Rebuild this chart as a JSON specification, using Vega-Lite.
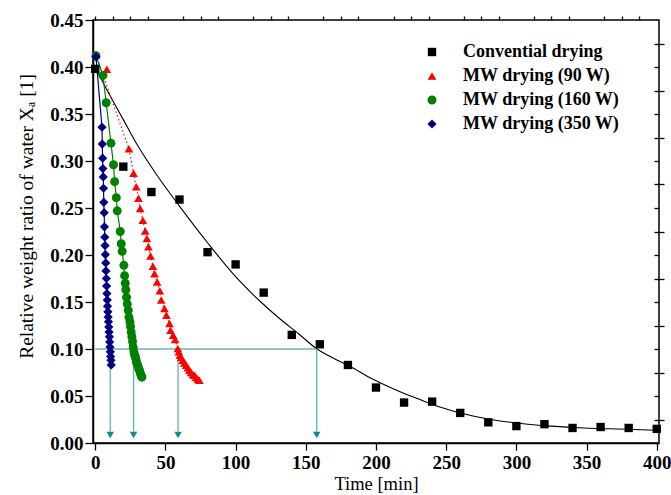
{
  "$schema": "https://vega.github.io/schema/vega-lite/v6.json",
  "width": 566,
  "height": 423,
  "autosize": "none",
  "padding": {"left": 93, "top": 20, "right": 12, "bottom": 52},
  "config": {
    "view": {"stroke": "black", "strokeWidth": 1.5},
    "font": "Liberation Serif",
    "axis": {"domainColor": "black", "domainWidth": 1.5, "tickColor": "black", "tickWidth": 1.3, "labelColor": "black", "titleColor": "black", "grid": false}
  },
  "datasets": {
    "fit": [
      {"t": 0, "y": 0.399}, {"t": 5, "y": 0.385}, {"t": 10, "y": 0.371}, {"t": 20, "y": 0.344}, {"t": 30, "y": 0.317}, {"t": 43, "y": 0.287}, {"t": 60, "y": 0.252}, {"t": 80, "y": 0.213}, {"t": 100, "y": 0.177}, {"t": 111, "y": 0.16}, {"t": 118, "y": 0.15}, {"t": 130, "y": 0.134}, {"t": 145, "y": 0.116}, {"t": 158, "y": 0.1}, {"t": 170, "y": 0.09}, {"t": 182, "y": 0.081}, {"t": 195, "y": 0.07}, {"t": 206, "y": 0.062}, {"t": 218, "y": 0.054}, {"t": 230, "y": 0.047}, {"t": 246, "y": 0.038}, {"t": 260, "y": 0.032}, {"t": 282, "y": 0.025}, {"t": 301, "y": 0.021}, {"t": 325, "y": 0.018}, {"t": 348, "y": 0.016}, {"t": 379, "y": 0.0146}, {"t": 400, "y": 0.0135}
    ],
    "pts": [
      {"s": "Convential drying", "t": 0, "y": 0.398}, {"s": "Convential drying", "t": 20, "y": 0.294}, {"s": "Convential drying", "t": 40, "y": 0.267}, {"s": "Convential drying", "t": 60, "y": 0.259}, {"s": "Convential drying", "t": 80, "y": 0.203}, {"s": "Convential drying", "t": 100, "y": 0.19}, {"s": "Convential drying", "t": 120, "y": 0.16}, {"s": "Convential drying", "t": 140, "y": 0.115}, {"s": "Convential drying", "t": 160, "y": 0.105}, {"s": "Convential drying", "t": 180, "y": 0.083}, {"s": "Convential drying", "t": 200, "y": 0.059}, {"s": "Convential drying", "t": 220, "y": 0.043}, {"s": "Convential drying", "t": 240, "y": 0.044}, {"s": "Convential drying", "t": 260, "y": 0.032}, {"s": "Convential drying", "t": 280, "y": 0.022}, {"s": "Convential drying", "t": 300, "y": 0.018}, {"s": "Convential drying", "t": 320, "y": 0.02}, {"s": "Convential drying", "t": 340, "y": 0.016}, {"s": "Convential drying", "t": 360, "y": 0.017}, {"s": "Convential drying", "t": 380, "y": 0.016}, {"s": "Convential drying", "t": 400, "y": 0.015},
      {"s": "MW drying (90 W)", "t": 0.5, "y": 0.413}, {"s": "MW drying (90 W)", "t": 8.3, "y": 0.3975}, {"s": "MW drying (90 W)", "t": 24.0, "y": 0.313}, {"s": "MW drying (90 W)", "t": 27.3, "y": 0.287}, {"s": "MW drying (90 W)", "t": 29.2, "y": 0.2726}, {"s": "MW drying (90 W)", "t": 30.8, "y": 0.2605}, {"s": "MW drying (90 W)", "t": 32.0, "y": 0.2495}, {"s": "MW drying (90 W)", "t": 33.9, "y": 0.237}, {"s": "MW drying (90 W)", "t": 35.6, "y": 0.2254}, {"s": "MW drying (90 W)", "t": 36.8, "y": 0.2176}, {"s": "MW drying (90 W)", "t": 37.9, "y": 0.2087}, {"s": "MW drying (90 W)", "t": 39.4, "y": 0.199}, {"s": "MW drying (90 W)", "t": 41.1, "y": 0.188}, {"s": "MW drying (90 W)", "t": 42.2, "y": 0.18}, {"s": "MW drying (90 W)", "t": 44.1, "y": 0.1714}, {"s": "MW drying (90 W)", "t": 46.0, "y": 0.162}, {"s": "MW drying (90 W)", "t": 47.0, "y": 0.152}, {"s": "MW drying (90 W)", "t": 49.3, "y": 0.143}, {"s": "MW drying (90 W)", "t": 50.7, "y": 0.136}, {"s": "MW drying (90 W)", "t": 52.9, "y": 0.127}, {"s": "MW drying (90 W)", "t": 53.6, "y": 0.12}, {"s": "MW drying (90 W)", "t": 55.5, "y": 0.1147}, {"s": "MW drying (90 W)", "t": 56.9, "y": 0.11}, {"s": "MW drying (90 W)", "t": 58.8, "y": 0.1005}, {"s": "MW drying (90 W)", "t": 59.5, "y": 0.097}, {"s": "MW drying (90 W)", "t": 60.3, "y": 0.0934}, {"s": "MW drying (90 W)", "t": 61.3, "y": 0.091}, {"s": "MW drying (90 W)", "t": 62.4, "y": 0.088}, {"s": "MW drying (90 W)", "t": 63.5, "y": 0.085}, {"s": "MW drying (90 W)", "t": 64.8, "y": 0.0827}, {"s": "MW drying (90 W)", "t": 66.0, "y": 0.08}, {"s": "MW drying (90 W)", "t": 67.1, "y": 0.0774}, {"s": "MW drying (90 W)", "t": 68.3, "y": 0.075}, {"s": "MW drying (90 W)", "t": 69.5, "y": 0.073}, {"s": "MW drying (90 W)", "t": 70.7, "y": 0.0721}, {"s": "MW drying (90 W)", "t": 71.8, "y": 0.07}, {"s": "MW drying (90 W)", "t": 73.0, "y": 0.068}, {"s": "MW drying (90 W)", "t": 74.2, "y": 0.0667},
      {"s": "MW drying (160 W)", "t": 0.5, "y": 0.412}, {"s": "MW drying (160 W)", "t": 5.5, "y": 0.391}, {"s": "MW drying (160 W)", "t": 7.8, "y": 0.362}, {"s": "MW drying (160 W)", "t": 11.2, "y": 0.319}, {"s": "MW drying (160 W)", "t": 13.0, "y": 0.296}, {"s": "MW drying (160 W)", "t": 13.8, "y": 0.278}, {"s": "MW drying (160 W)", "t": 15.0, "y": 0.261}, {"s": "MW drying (160 W)", "t": 15.7, "y": 0.247}, {"s": "MW drying (160 W)", "t": 17.8, "y": 0.225}, {"s": "MW drying (160 W)", "t": 18.5, "y": 0.212}, {"s": "MW drying (160 W)", "t": 19.2, "y": 0.204}, {"s": "MW drying (160 W)", "t": 20.4, "y": 0.189}, {"s": "MW drying (160 W)", "t": 20.9, "y": 0.178}, {"s": "MW drying (160 W)", "t": 21.4, "y": 0.17}, {"s": "MW drying (160 W)", "t": 21.8, "y": 0.163}, {"s": "MW drying (160 W)", "t": 22.3, "y": 0.155}, {"s": "MW drying (160 W)", "t": 22.8, "y": 0.148}, {"s": "MW drying (160 W)", "t": 23.5, "y": 0.141}, {"s": "MW drying (160 W)", "t": 24.0, "y": 0.134}, {"s": "MW drying (160 W)", "t": 24.7, "y": 0.129}, {"s": "MW drying (160 W)", "t": 25.1, "y": 0.124}, {"s": "MW drying (160 W)", "t": 25.6, "y": 0.118}, {"s": "MW drying (160 W)", "t": 26.1, "y": 0.113}, {"s": "MW drying (160 W)", "t": 26.6, "y": 0.108}, {"s": "MW drying (160 W)", "t": 27.0, "y": 0.102}, {"s": "MW drying (160 W)", "t": 27.5, "y": 0.097}, {"s": "MW drying (160 W)", "t": 28.0, "y": 0.094}, {"s": "MW drying (160 W)", "t": 28.5, "y": 0.092}, {"s": "MW drying (160 W)", "t": 29.0, "y": 0.089}, {"s": "MW drying (160 W)", "t": 29.4, "y": 0.086}, {"s": "MW drying (160 W)", "t": 29.9, "y": 0.084}, {"s": "MW drying (160 W)", "t": 30.4, "y": 0.082}, {"s": "MW drying (160 W)", "t": 31.0, "y": 0.079}, {"s": "MW drying (160 W)", "t": 31.6, "y": 0.077}, {"s": "MW drying (160 W)", "t": 32.2, "y": 0.074}, {"s": "MW drying (160 W)", "t": 32.7, "y": 0.072}, {"s": "MW drying (160 W)", "t": 33.2, "y": 0.07},
      {"s": "MW drying (350 W)", "t": 0.5, "y": 0.411}, {"s": "MW drying (350 W)", "t": 4.8, "y": 0.336}, {"s": "MW drying (350 W)", "t": 5.0, "y": 0.318}, {"s": "MW drying (350 W)", "t": 5.25, "y": 0.303}, {"s": "MW drying (350 W)", "t": 5.45, "y": 0.292}, {"s": "MW drying (350 W)", "t": 5.7, "y": 0.283}, {"s": "MW drying (350 W)", "t": 5.9, "y": 0.271}, {"s": "MW drying (350 W)", "t": 6.1, "y": 0.256}, {"s": "MW drying (350 W)", "t": 6.35, "y": 0.245}, {"s": "MW drying (350 W)", "t": 6.55, "y": 0.23}, {"s": "MW drying (350 W)", "t": 6.8, "y": 0.219}, {"s": "MW drying (350 W)", "t": 7.0, "y": 0.21}, {"s": "MW drying (350 W)", "t": 7.2, "y": 0.2005}, {"s": "MW drying (350 W)", "t": 7.45, "y": 0.1916}, {"s": "MW drying (350 W)", "t": 7.65, "y": 0.183}, {"s": "MW drying (350 W)", "t": 7.9, "y": 0.175}, {"s": "MW drying (350 W)", "t": 8.1, "y": 0.167}, {"s": "MW drying (350 W)", "t": 8.3, "y": 0.159}, {"s": "MW drying (350 W)", "t": 8.55, "y": 0.152}, {"s": "MW drying (350 W)", "t": 8.75, "y": 0.1455}, {"s": "MW drying (350 W)", "t": 9.0, "y": 0.1395}, {"s": "MW drying (350 W)", "t": 9.2, "y": 0.134}, {"s": "MW drying (350 W)", "t": 9.4, "y": 0.129}, {"s": "MW drying (350 W)", "t": 9.65, "y": 0.1235}, {"s": "MW drying (350 W)", "t": 9.85, "y": 0.118}, {"s": "MW drying (350 W)", "t": 10.1, "y": 0.113}, {"s": "MW drying (350 W)", "t": 10.3, "y": 0.1075}, {"s": "MW drying (350 W)", "t": 10.5, "y": 0.102}, {"s": "MW drying (350 W)", "t": 10.75, "y": 0.097}, {"s": "MW drying (350 W)", "t": 10.95, "y": 0.092}, {"s": "MW drying (350 W)", "t": 11.2, "y": 0.088}, {"s": "MW drying (350 W)", "t": 11.4, "y": 0.083}
    ],
    "arrows": [
      {"t": 10.7, "y": 0.1, "y2": 0.012, "yh": 0.0085}, {"t": 27.3, "y": 0.1, "y2": 0.012, "yh": 0.0085}, {"t": 59, "y": 0.1, "y2": 0.012, "yh": 0.0085}, {"t": 157.8, "y": 0.1, "y2": 0.012, "yh": 0.0085}
    ],
    "hline": [{"t": 0, "t2": 157.8, "y": 0.1}]
  },
  "layer": [
    {
      "data": {"name": "fit"},
      "mark": {"type": "line", "color": "black", "strokeWidth": 1.1, "interpolate": "monotone"},
      "encoding": {
        "x": {"field": "t", "type": "quantitative", "scale": {"domain": [-1.6, 401.6], "nice": false, "zero": false},
              "axis": {"values": [0, 50, 100, 150, 200, 250, 300, 350, 400], "tickSize": 7, "labelPadding": 3, "labelFont": "Liberation Serif", "labelFontSize": 19, "labelFontWeight": "bold", "title": "Time [min]", "titleFont": "Liberation Serif", "titleFontSize": 18.5, "titleFontWeight": "normal", "titlePadding": 2, "labelFlush": false}},
        "y": {"field": "y", "type": "quantitative", "scale": {"domain": [0, 0.45], "nice": false},
              "axis": {"values": [0, 0.05, 0.1, 0.15, 0.2, 0.25, 0.3, 0.35, 0.4, 0.45], "format": ".2f", "tickSize": 8, "labelPadding": 2, "labelFont": "Liberation Serif", "labelFontSize": 19, "labelFontWeight": "bold", "title": "Relative weight ratio of water Xₐ [1]", "titleFont": "Liberation Serif", "titleFontSize": 19.5, "titleFontWeight": "normal", "titlePadding": 13, "titleY": 196, "labelFlush": false}}
      }
    },
    {
      "data": {"name": "pts"},
      "transform": [{"filter": "datum.s === 'MW drying (90 W)' && datum.t != 8.3"}],
      "mark": {"type": "line", "color": "red", "strokeWidth": 1.1, "strokeDash": [1.5, 2.5]},
      "encoding": {
        "x": {"field": "t", "type": "quantitative", "axis": {"values": [0, 12.5, 25, 37.5, 62.5, 75, 87.5, 112.5, 125, 137.5, 162.5, 175, 187.5, 212.5, 225, 237.5, 262.5, 275, 287.5, 312.5, 325, 337.5, 362.5, 375, 387.5], "tickSize": 4, "labels": false, "domain": false, "title": null}},
        "y": {"field": "y", "type": "quantitative", "axis": {"values": [0.025, 0.075, 0.125, 0.175, 0.225, 0.275, 0.325, 0.375, 0.425], "tickSize": 5, "labels": false, "domain": false, "title": null}}
      }
    },
    {
      "data": {"name": "pts"},
      "transform": [{"filter": "datum.s === 'MW drying (160 W)'"}],
      "mark": {"type": "line", "color": "green", "strokeWidth": 1.2},
      "encoding": {
        "x": {"field": "t", "type": "quantitative", "axis": null},
        "y": {"field": "y", "type": "quantitative", "axis": {"orient": "right", "values": [0.025, 0.05, 0.075, 0.1, 0.125, 0.15, 0.175, 0.2, 0.225, 0.25, 0.275, 0.3, 0.325, 0.35, 0.375, 0.4, 0.425], "tickSize": -5, "labels": false, "domain": false, "title": null}}
      }
    },
    {
      "data": {"name": "pts"},
      "transform": [{"filter": "datum.s === 'MW drying (350 W)'"}],
      "mark": {"type": "line", "color": "#000080", "strokeWidth": 1.2},
      "encoding": {
        "x": {"field": "t", "type": "quantitative", "axis": null},
        "y": {"field": "y", "type": "quantitative", "axis": null}
      }
    },
    {
      "data": {"name": "hline"},
      "mark": {"type": "rule", "color": "#6fb5b5", "strokeWidth": 1.4},
      "encoding": {
        "x": {"field": "t", "type": "quantitative", "axis": null},
        "x2": {"field": "t2"},
        "y": {"field": "y", "type": "quantitative", "axis": null}
      }
    },
    {
      "data": {"name": "arrows"},
      "mark": {"type": "rule", "color": "#6fb5b5", "strokeWidth": 1.4},
      "encoding": {
        "x": {"field": "t", "type": "quantitative", "axis": null},
        "y": {"field": "y", "type": "quantitative", "axis": null},
        "y2": {"field": "y2"}
      }
    },
    {
      "data": {"name": "arrows"},
      "mark": {"type": "point", "shape": "triangle-down", "filled": true, "color": "#178787", "size": 55, "opacity": 1},
      "encoding": {
        "x": {"field": "t", "type": "quantitative", "axis": null},
        "y": {"field": "yh", "type": "quantitative", "axis": null}
      }
    },
    {
      "data": {"name": "pts"},
      "mark": {"type": "point", "filled": true, "opacity": 1},
      "encoding": {
        "x": {"field": "t", "type": "quantitative", "axis": null},
        "y": {"field": "y", "type": "quantitative", "axis": null},
        "color": {"field": "s", "type": "nominal", "scale": {"domain": ["Convential drying", "MW drying (90 W)", "MW drying (160 W)", "MW drying (350 W)"], "range": ["black", "red", "green", "#000080"]},
                  "legend": {"orient": "none", "legendX": 330, "legendY": 23, "title": null, "labelFont": "Liberation Serif", "labelFontWeight": "bold", "labelFontSize": 18, "labelColor": "black", "symbolStrokeWidth": 0, "labelOffset": 22, "rowPadding": 6}},
        "shape": {"field": "s", "type": "nominal", "scale": {"domain": ["Convential drying", "MW drying (90 W)", "MW drying (160 W)", "MW drying (350 W)"], "range": ["square", "triangle-up", "circle", "diamond"]}},
        "size": {"field": "s", "type": "nominal", "scale": {"domain": ["Convential drying", "MW drying (90 W)", "MW drying (160 W)", "MW drying (350 W)"], "range": [70, 85, 60, 65]}}
      }
    }
  ],
  "resolve": {"axis": {"x": "independent", "y": "independent"}}
}
